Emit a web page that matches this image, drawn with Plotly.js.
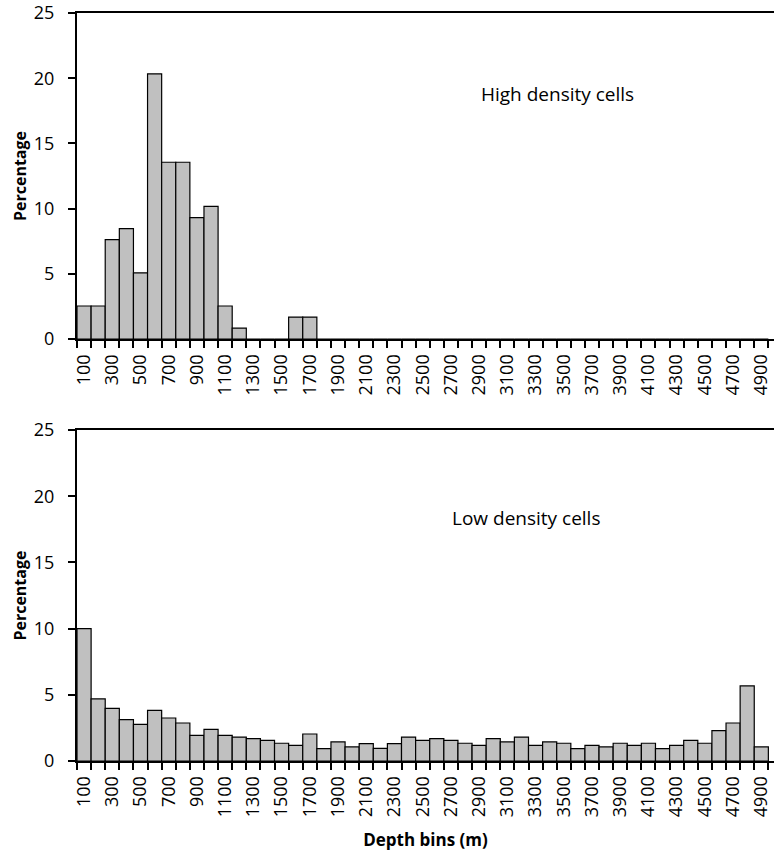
<!DOCTYPE html>
<html>
<head>
<meta charset="utf-8">
<script src="https://cdn.plot.ly/plotly-3.0.1.min.js"></script>
<style>
  html, body { margin: 0; padding: 0; background: #fff; }
  #chart { width: 774px; height: 851px; }
</style>
</head>
<body>
<div id="chart"></div>
<script>
// Depth bins (m)
const depthBins = ["100","200","300","400","500","600","700","800","900","1000",
  "1100","1200","1300","1400","1500","1600","1700","1800","1900","2000",
  "2100","2200","2300","2400","2500","2600","2700","2800","2900","3000",
  "3100","3200","3300","3400","3500","3600","3700","3800","3900","4000",
  "4100","4200","4300","4400","4500","4600","4700","4800","4900"];

// Percentage of high density cells per depth bin
const highDensity = [2.54, 2.54, 7.63, 8.47, 5.08, 20.34, 13.56, 13.56, 9.32, 10.17,
  2.54, 0.85, 0, 0, 0, 1.69, 1.69, 0, 0, 0,
  0, 0, 0, 0, 0, 0, 0, 0, 0, 0,
  0, 0, 0, 0, 0, 0, 0, 0, 0, 0,
  0, 0, 0, 0, 0, 0, 0, 0, 0];

// Percentage of low density cells per depth bin
const lowDensity = [10.0, 4.69, 3.98, 3.12, 2.77, 3.83, 3.25, 2.87, 1.94, 2.39,
  1.94, 1.81, 1.69, 1.56, 1.34, 1.18, 2.04, 0.93, 1.44, 1.06,
  1.31, 0.96, 1.31, 1.81, 1.56, 1.69, 1.56, 1.34, 1.18, 1.69,
  1.44, 1.81, 1.18, 1.44, 1.34, 0.93, 1.18, 1.06, 1.34, 1.18,
  1.34, 0.93, 1.18, 1.56, 1.34, 2.29, 2.87, 5.67, 1.06];

// Labels shown on every other bin
const tickLabels = depthBins.map((c, i) => (i % 2 === 0 ? c : ""));
const yTicks = [0, 5, 10, 15, 20, 25];

const FONT = "Open Sans, sans-serif";

const barStyle = {
  type: "bar",
  marker: { color: "#c0c0c0", line: { color: "#000000", width: 1.2 } },
  hoverinfo: "x+y",
  showlegend: false
};

const traces = [
  Object.assign({}, barStyle, { x: depthBins, y: highDensity, xaxis: "x", yaxis: "y" }),
  Object.assign({}, barStyle, { x: depthBins, y: lowDensity, xaxis: "x2", yaxis: "y2" })
];

function xAxis(extra) {
  return Object.assign({
    type: "category",
    range: [-0.5, 48.9],
    tickmode: "array",
    tickvals: depthBins,
    ticktext: tickLabels,
    tickson: "boundaries",
    tickangle: -90,
    ticks: "outside",
    ticklen: 7,
    tickwidth: 2,
    tickcolor: "#000",
    ticklabelstandoff: 6,
    showline: true,
    linecolor: "#000",
    linewidth: 2,
    mirror: true,
    showgrid: false,
    zeroline: false,
    automargin: false,
    tickfont: { family: FONT, size: 18, color: "#000" }
  }, extra);
}

function yAxis(extra) {
  return Object.assign({
    range: [0, 25],
    tickmode: "array",
    tickvals: yTicks,
    ticks: "outside",
    ticklen: 7,
    tickwidth: 2,
    tickcolor: "#000",
    ticklabelstandoff: 10,
    showline: true,
    linecolor: "#000",
    linewidth: 2,
    showgrid: false,
    zeroline: false,
    automargin: false,
    tickfont: { family: FONT, size: 18, color: "#000" }
  }, extra);
}

const titleFont = { family: FONT, size: 16, color: "#000", weight: "bold" };

const layout = {
  width: 774,
  height: 851,
  margin: { l: 77, r: 0, t: 13, b: 90 },
  paper_bgcolor: "#ffffff",
  plot_bgcolor: "#ffffff",
  bargap: 0,
  showlegend: false,
  xaxis: xAxis({ domain: [0, 1], anchor: "y" }),
  yaxis: yAxis({ domain: [0.564, 1], anchor: "x" }),
  xaxis2: xAxis({
    domain: [0, 1], anchor: "y2",
    title: { text: "Depth bins (m)", font: { family: FONT, size: 17, color: "#000", weight: "bold" }, standoff: 20 }
  }),
  yaxis2: yAxis({ domain: [0, 0.4423], anchor: "x2" }),
  annotations: [
    { text: "Percentage", xref: "paper", yref: "paper", x: -0.0818, y: 0.782,
      textangle: -90, showarrow: false, xanchor: "center", yanchor: "middle", font: titleFont },
    { text: "Percentage", xref: "paper", yref: "paper", x: -0.0818, y: 0.2211,
      textangle: -90, showarrow: false, xanchor: "center", yanchor: "middle", font: titleFont },
    { text: "High density cells", xref: "paper", yref: "paper", x: 0.69, y: 0.8917,
      showarrow: false, xanchor: "center", yanchor: "middle",
      font: { family: FONT, size: 19, color: "#000" } },
    { text: "Low density cells", xref: "paper", yref: "paper", x: 0.644, y: 0.3246,
      showarrow: false, xanchor: "center", yanchor: "middle",
      font: { family: FONT, size: 19, color: "#000" } }
  ]
};

Plotly.newPlot("chart", traces, layout, { displayModeBar: false, staticPlot: true });
</script>
</body>
</html>
